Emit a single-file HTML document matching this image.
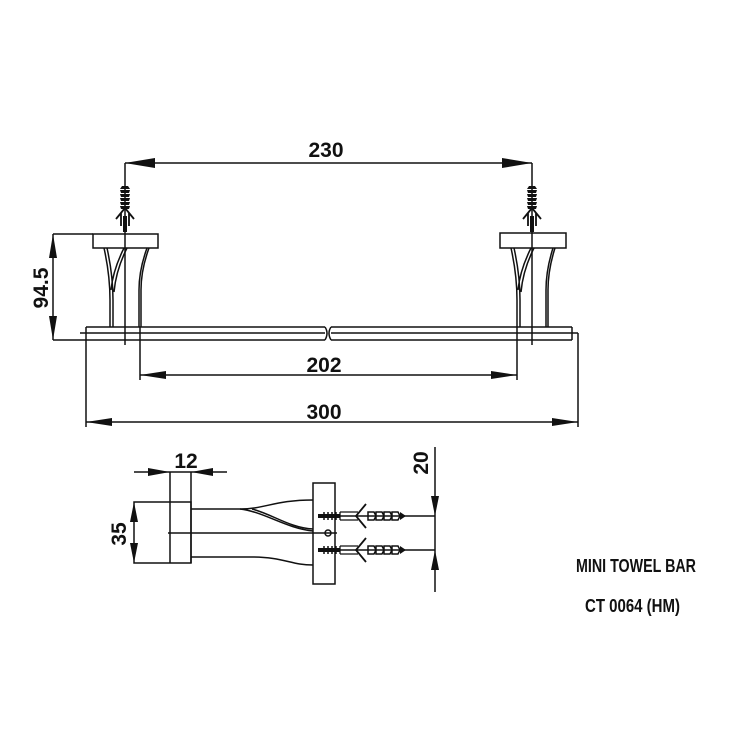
<!DOCTYPE html>
<html><head><meta charset="utf-8"><style>
html,body{margin:0;padding:0;background:#fff}
svg{display:block}
text{font-family:"Liberation Sans",sans-serif;font-weight:bold;fill:#111}
</style></head><body>
<svg width="740" height="740" viewBox="0 0 740 740" xmlns="http://www.w3.org/2000/svg">
<defs>
<g id="anchorV">
  <path d="M-3,0 L3,0 L5,3 L-5,3 Z M-5,4 L5,4 L4,7 L-4,7 Z M-5,8 L5,8 L4,11 L-4,11 Z M-5,12 L5,12 L4,15 L-4,15 Z M-5,16 L5,16 L4,19 L-4,19 Z M-5,20 L5,20 L4,23 L-4,23 Z" fill="#111"/>
  <path d="M0,22 L-9,33 M0,22 L9,33 M-4,27 L-4,40 M4,27 L4,40" stroke="#111" stroke-width="1.8" fill="none"/>
  <rect x="-2" y="30" width="4" height="16" fill="#111"/>
</g>
<g id="anchorH">
  <path d="M0,-2 L22,-2 L22,2 L0,2 Z" fill="#111"/>
  <path d="M6,-4 L6,4 M10,-4 L10,4 M14,-4 L14,4 M18,-4 L18,4" stroke="#111" stroke-width="1.5"/>
  <path d="M22,-4 L40,-4 M22,4 L40,4 M22,-4 L22,4" stroke="#111" stroke-width="1.3" fill="none"/>
  <path d="M48,-12 L38,0 L48,12" stroke="#111" stroke-width="1.8" fill="none"/>
  <path d="M50,-4 L56,-4 L58,0 L56,4 L50,4 Z M58,-4 L64,-4 L66,0 L64,4 L58,4 Z M66,-4 L72,-4 L74,0 L72,4 L66,4 Z M74,-4 L80,-4 L82,0 L80,4 L74,4 Z" fill="none" stroke="#111" stroke-width="1.5"/>
  <line x1="40" y1="0" x2="84" y2="0" stroke="#111" stroke-width="1"/>
  <path d="M82,-4 L88,0 L82,4" fill="#111"/>
</g>
</defs>
<g stroke="#111" stroke-width="1.5" fill="none">
  <line x1="125" y1="163" x2="532" y2="163"/>
  <line x1="125" y1="163" x2="125" y2="345"/>
  <line x1="532" y1="163" x2="532" y2="345"/>
  <rect x="93" y="234" width="65" height="14"/>
  <rect x="500" y="233" width="66" height="15"/>
  <path d="M104,248 Q110,275 110,300 L110,327"/>
  <path d="M107,248 Q113,275 113,300 L113,327" />
  <path d="M124,248 Q113,270 111,290"/>
  <path d="M127,248 Q116,270 114,292"/>
  <path d="M147,248 Q139,270 139,290 L139,327"/>
  <path d="M149,248 Q141,270 141,290 L141,327"/>
  <path d="M511,248 Q517,275 517,300 L517,327"/>
  <path d="M514,248 Q520,275 520,300 L520,327"/>
  <path d="M531,248 Q520,270 518,290"/>
  <path d="M534,248 Q523,270 521,292"/>
  <path d="M553,248 Q546,270 546,290 L546,327"/>
  <path d="M555,248 Q548,270 548,290 L548,327"/>
  <path d="M86,327 L325,327 M331,327 L572,327"/>
  <path d="M80,333 L325,333 M331,333 L578,333"/>
  <path d="M86,340 L325,340 M331,340 L572,340"/>
  <path d="M325,327 Q329,333 325,340 M331,327 Q327,333 331,340"/>
  <line x1="86" y1="327" x2="86" y2="427"/>
  <line x1="572" y1="327" x2="572" y2="340"/>
  <line x1="578" y1="333" x2="578" y2="427"/>
  <line x1="140" y1="327" x2="140" y2="380"/>
  <line x1="517" y1="327" x2="517" y2="380"/>
  <line x1="53" y1="234" x2="93" y2="234"/>
  <line x1="53" y1="340" x2="86" y2="340"/>
  <line x1="53" y1="234" x2="53" y2="340"/>
  <line x1="140" y1="375" x2="517" y2="375"/>
  <line x1="86" y1="422" x2="578" y2="422"/>

  <line x1="134" y1="472" x2="227" y2="472"/>
  <line x1="170" y1="472" x2="170" y2="563"/>
  <line x1="191" y1="472" x2="191" y2="563"/>
  <rect x="134" y="502" width="57" height="61"/>
  <line x1="168" y1="533" x2="337" y2="533"/>
  <path d="M191,509 L240,509 C265,509 275,500 313,500"/>
  <path d="M240,509 C265,512 285,528 313,531"/>
  <path d="M252,509 C272,514 290,528 313,529"/>
  <path d="M191,557 L250,557 C285,557 290,565 313,565"/>
  <rect x="313" y="483" width="22" height="101"/>
  <circle cx="328" cy="533" r="3"/>
  <line x1="318" y1="516" x2="435" y2="516"/>
  <line x1="318" y1="550" x2="435" y2="550"/>
  <line x1="435" y1="447" x2="435" y2="592"/>
</g>
<g fill="#111">
  <path d="M125,163 L155,158 L155,168 Z"/>
  <path d="M532,163 L502,158 L502,168 Z"/>
  <path d="M53,234 L49,258 L57,258 Z"/>
  <path d="M53,340 L49,316 L57,316 Z"/>
  <path d="M140,375 L166,371 L166,379 Z"/>
  <path d="M517,375 L491,371 L491,379 Z"/>
  <path d="M86,422 L112,418 L112,426 Z"/>
  <path d="M578,422 L552,418 L552,426 Z"/>
  <path d="M170,472 L148,468 L148,476 Z"/>
  <path d="M191,472 L213,468 L213,476 Z"/>
  <path d="M134,502 L130,522 L138,522 Z"/>
  <path d="M134,563 L130,543 L138,543 Z"/>
  <path d="M435,516 L431,496 L439,496 Z"/>
  <path d="M435,550 L431,570 L439,570 Z"/>
</g>
<use href="#anchorV" x="125" y="186"/>
<use href="#anchorV" x="532" y="186"/>
<use href="#anchorH" x="318" y="516"/>
<use href="#anchorH" x="318" y="550"/>
<g font-size="21">
  <text x="326" y="157" text-anchor="middle">230</text>
  <text x="324" y="372" text-anchor="middle">202</text>
  <text x="324" y="419" text-anchor="middle">300</text>
  <text x="186" y="468" text-anchor="middle">12</text>
  <text transform="translate(48,288) rotate(-90)" text-anchor="middle">94.5</text>
  <text transform="translate(126,534) rotate(-90)" text-anchor="middle">35</text>
  <text transform="translate(428,463) rotate(-90)" text-anchor="middle">20</text>
</g>
<g font-size="18">
  <text x="576" y="572" textLength="120" lengthAdjust="spacingAndGlyphs">MINI TOWEL BAR</text>
  <text x="585" y="612" textLength="95" lengthAdjust="spacingAndGlyphs">CT 0064 (HM)</text>
</g>
</svg>
</body></html>
